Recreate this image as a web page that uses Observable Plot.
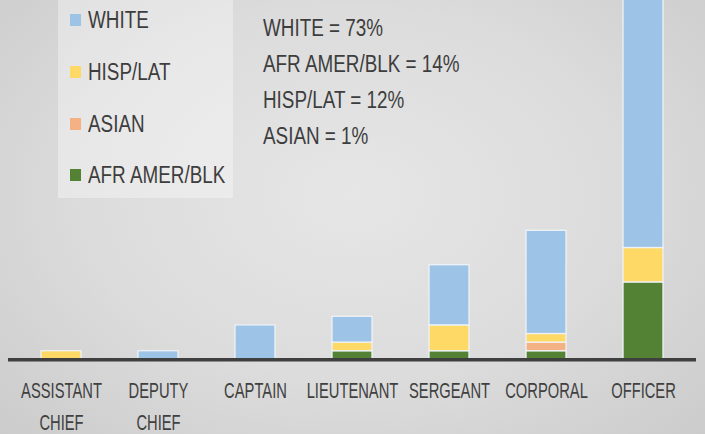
<!DOCTYPE html>
<html>
<head>
<meta charset="utf-8">
<script src="https://cdn.jsdelivr.net/npm/d3@7"></script>
<script src="https://cdn.jsdelivr.net/npm/@observablehq/plot@0.6"></script>
<style>
  html, body { margin: 0; padding: 0; }
  body { width: 705px; height: 434px; overflow: hidden;
    background: radial-gradient(ellipse 75% 85% at 50% 45%, #e6e6e6 0%, #dcdcdc 50%, #c9c9c9 100%); }
  #wrap { position: relative; width: 705px; height: 434px; font-family: "Liberation Sans", Arial, sans-serif; color: #3d3d3d; }
  #chart { position: absolute; left: 0; top: 0; }
  #legendBox { position: absolute; left: 58px; top: 0; width: 175px; height: 198px; background: rgba(255,255,255,0.35); }
  .legItem { position: absolute; left: 70px; font-size: 23px; line-height: 26px; white-space: nowrap; }
  .legItem .sw { position: absolute; left: 0; width: 11px; height: 12px; }
  .legItem .tx { position: absolute; left: 18px; top: 0; transform: scaleX(0.82); transform-origin: 0 0; }
  #summary { position: absolute; left: 263px; top: 10px; font-size: 23px; line-height: 36px; white-space: nowrap; }
  #summary div { transform: scaleX(0.82); transform-origin: 0 0; }
</style>
</head>
<body>
<div id="wrap">
  <div id="legendBox"></div>
  <div id="chart"></div>
  <div id="legend"></div>
  <div id="summary"></div>
</div>
<script>
// Categories (ranks) and their tick labels
const ranks = ["ASSISTANT CHIEF", "DEPUTY CHIEF", "CAPTAIN", "LIEUTENANT", "SERGEANT", "CORPORAL", "OFFICER"];
const tickLabels = ["ASSISTANT\nCHIEF", "DEPUTY\nCHIEF", "CAPTAIN", "LIEUTENANT", "SERGEANT", "CORPORAL", "OFFICER"];

// Series values (headcount per rank)
const afrAmerBlk = [0, 0, 0, 1, 1, 1, 9];
const asian      = [0, 0, 0, 0, 0, 1, 0];
const hispLat    = [1, 0, 0, 1, 3, 1, 4];
const white      = [0, 1, 4, 3, 7, 12, 35];

// Series names, stack order (bottom to top), colors
const seriesNames = ["AFR AMER/BLK", "ASIAN", "HISP/LAT", "WHITE"];
const seriesColors = ["#548235", "#f4b183", "#ffd966", "#9dc3e6"];
const legendOrder = ["WHITE", "HISP/LAT", "ASIAN", "AFR AMER/BLK"];

// Summary text lines
const summaryLines = ["WHITE = 73%", "AFR AMER/BLK = 14%", "HISP/LAT = 12%", "ASIAN = 1%"];

const seriesValues = [afrAmerBlk, asian, hispLat, white];
const rows = [];
seriesNames.forEach((s, si) => {
  ranks.forEach((r, ri) => {
    const v = seriesValues[si][ri];
    if (v > 0) rows.push({rank: r, series: s, value: v});
  });
});

const W = 705, H = 434;
const baseY = 359.3;
const unitPx = 8.6;

const chart = Plot.plot({
  width: W,
  height: H,
  marginLeft: 8,
  marginRight: 9,
  marginTop: 0,
  marginBottom: H - baseY,
  style: {background: "transparent", overflow: "hidden"},
  x: {domain: ranks, paddingInner: 0.59, paddingOuter: 0.31, axis: null},
  y: {domain: [0, baseY / unitPx], axis: null},
  color: {domain: seriesNames, range: seriesColors},
  marks: [
    Plot.barY(rows, {
      x: "rank", y: "value", fill: "series",
      order: seriesNames,
      stroke: "#eef2f6", strokeWidth: 1.3,
      clip: true
    }),
    Plot.ruleY([0], {stroke: "#3f3f3f", strokeWidth: 3.5}),
    Plot.axisX({
      tickSize: 0, tickPadding: 15.1,
      tickFormat: (d) => tickLabels[ranks.indexOf(d)],
      fontSize: 22, lineHeight: 1.477,
      fontFamily: "Liberation Sans, Arial, sans-serif",
      color: "#404040", label: null
    })
  ]
});
document.getElementById("chart").appendChild(chart);

// Condense tick label glyphs horizontally around their anchor
chart.querySelectorAll("g[aria-label='x-axis tick label'] text").forEach((t) => {
  const tr = t.getAttribute("transform") || "";
  t.setAttribute("transform", tr + " scale(0.67,1)");
});

// Legend
const legend = document.getElementById("legend");
const capCenters = [20, 71.8, 123.5, 175.2];
legendOrder.forEach((s, i) => {
  const item = document.createElement("div");
  item.className = "legItem";
  item.style.top = (capCenters[i] - 12.8) + "px";
  const sw = document.createElement("div");
  sw.className = "sw";
  sw.style.background = seriesColors[seriesNames.indexOf(s)];
  sw.style.top = "7px";
  const tx = document.createElement("div");
  tx.className = "tx";
  tx.textContent = s;
  item.appendChild(sw);
  item.appendChild(tx);
  legend.appendChild(item);
});

// Summary text
const summary = document.getElementById("summary");
summaryLines.forEach((line) => {
  const d = document.createElement("div");
  d.textContent = line;
  summary.appendChild(d);
});
</script>
</body>
</html>
